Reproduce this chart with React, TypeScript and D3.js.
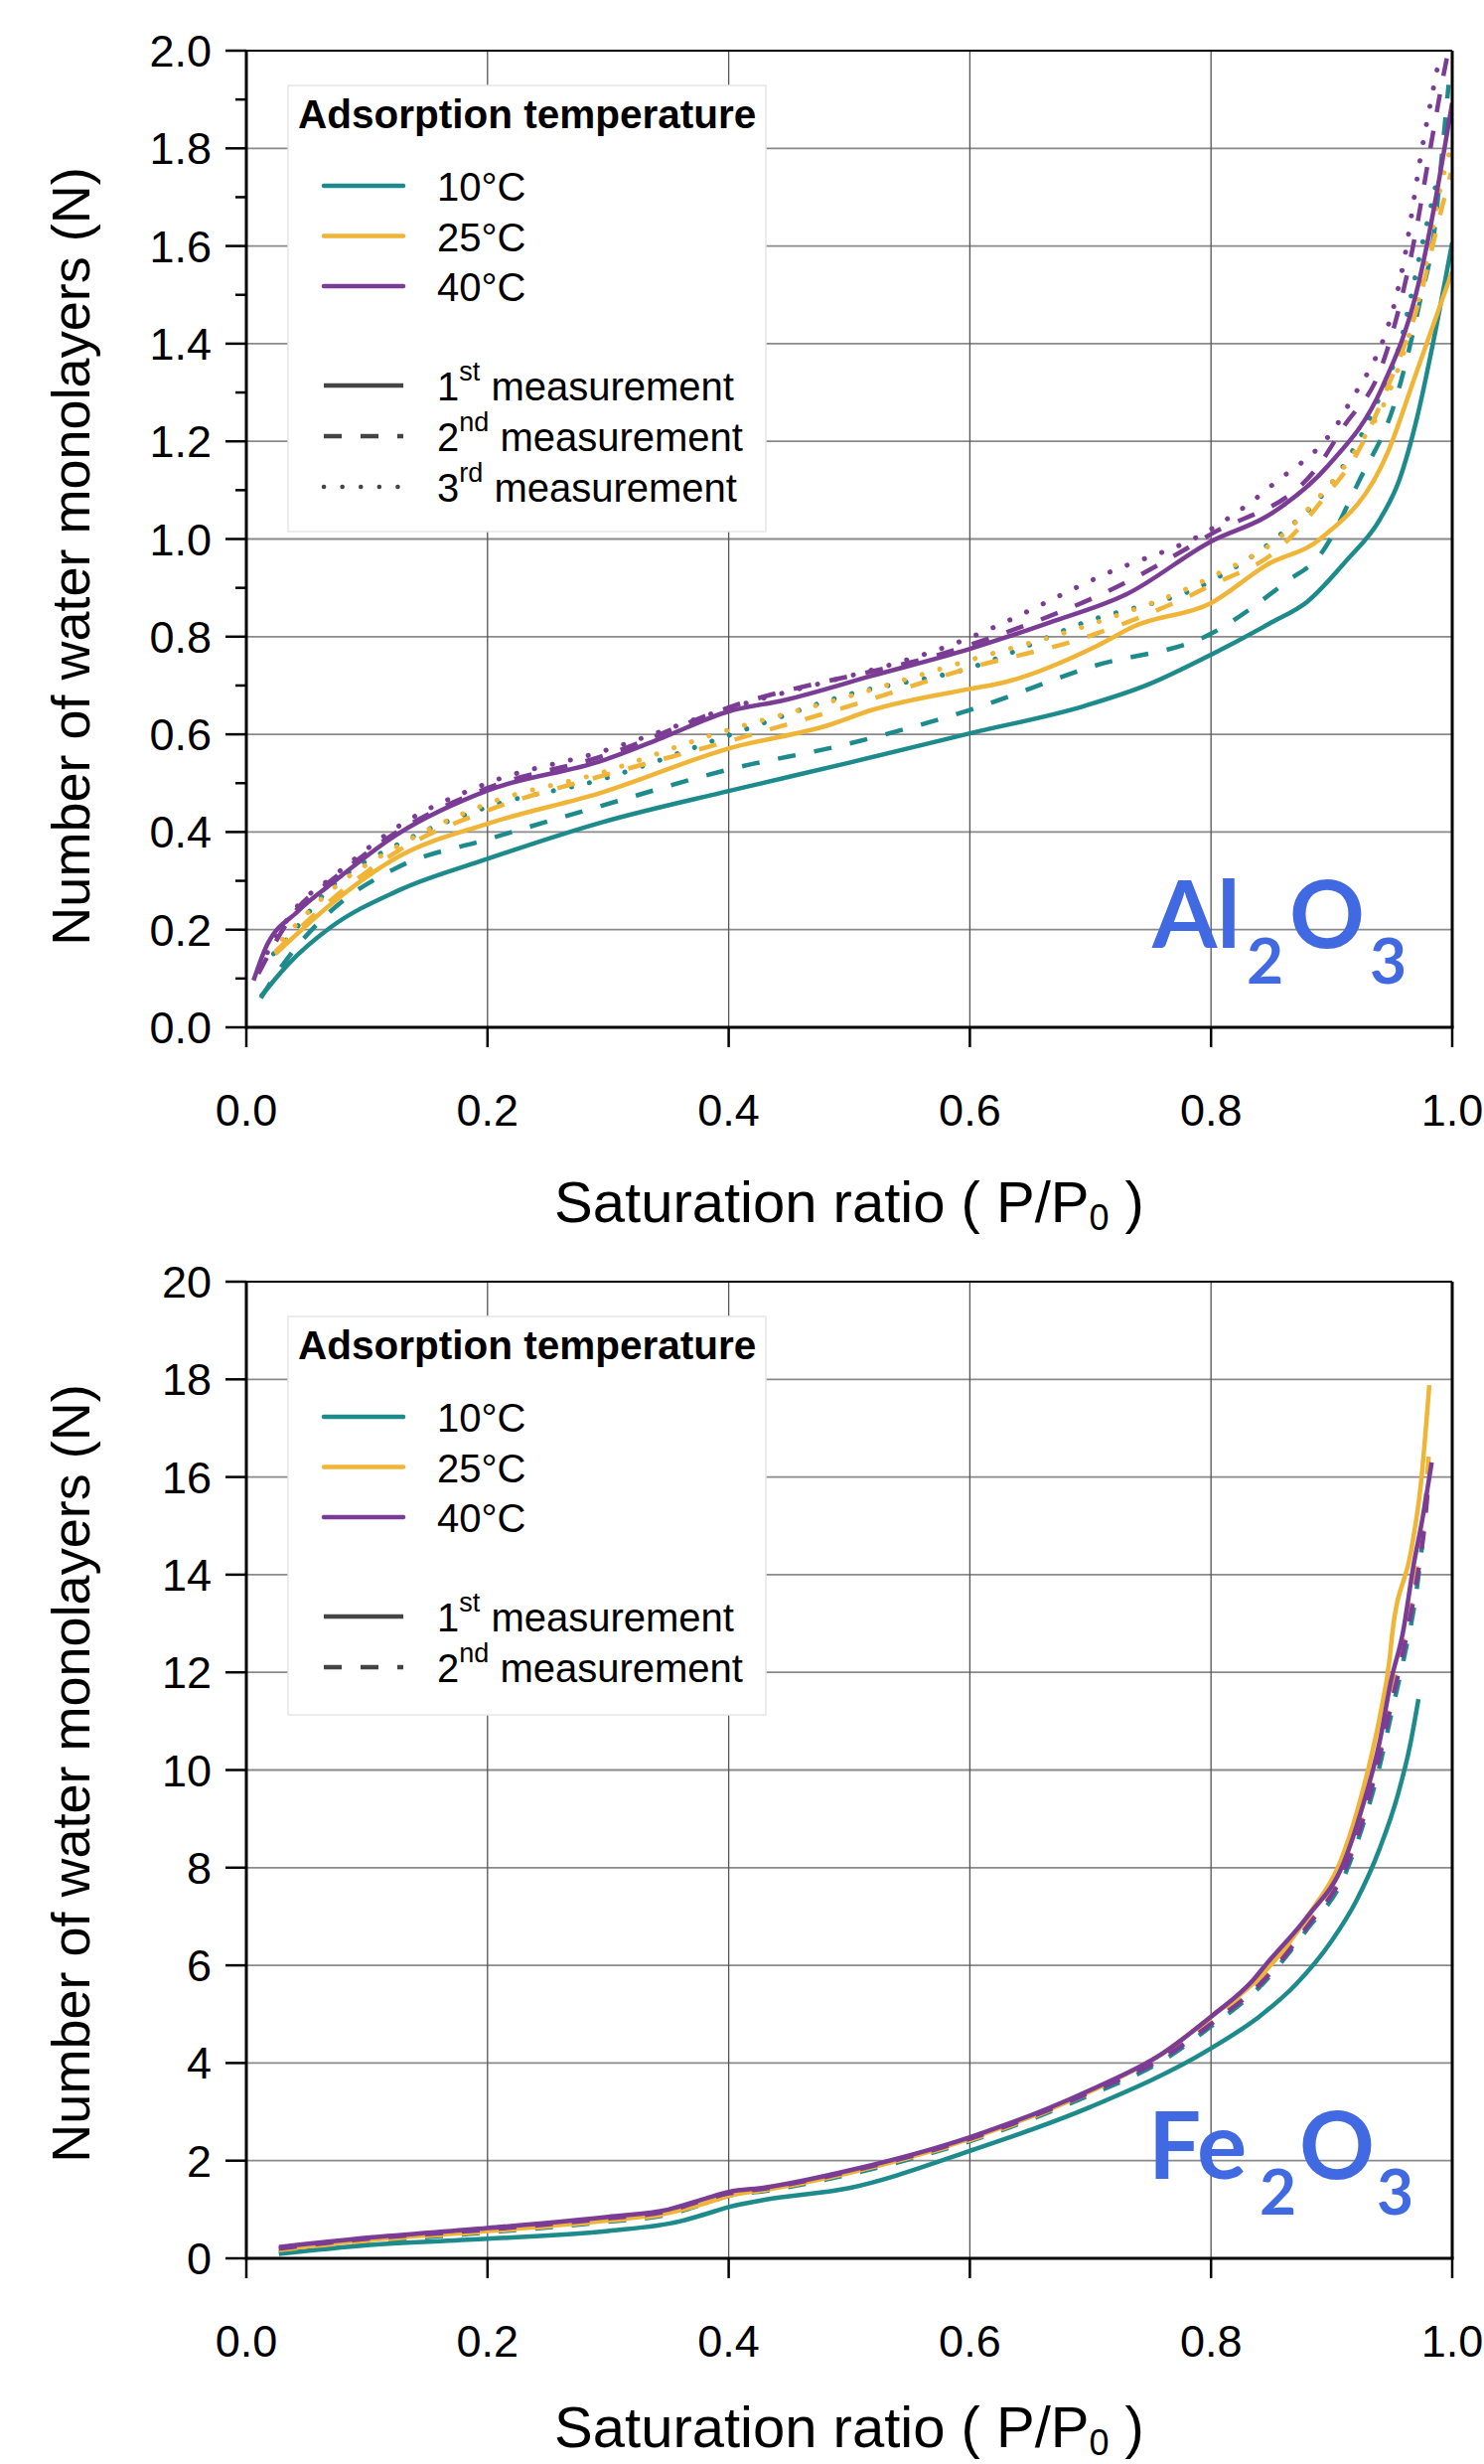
import React from "react";
import * as d3 from "d3";

// ---------------- data ----------------
const X_TICKS = [0, 0.2, 0.4, 0.6, 0.8, 1.0];
const AL_Y_TICKS = [0, 0.2, 0.4, 0.6, 0.8, 1.0, 1.2, 1.4, 1.6, 1.8, 2.0];
const AL_Y_MINOR = [0.1, 0.3, 0.5, 0.7, 0.9, 1.1, 1.3, 1.5, 1.7, 1.9];
const FE_Y_TICKS = [0, 2, 4, 6, 8, 10, 12, 14, 16, 18, 20];
const TEMPS = ["10°C", "25°C", "40°C"];
const MEAS_NUM = ["1", "2", "3"];
const MEAS_SUP = ["st", "nd", "rd"];

// Al2O3 — 10 °C
const AL_P_10_1 = [0.012, 0.035, 0.07, 0.125, 0.2, 0.295, 0.4, 0.5, 0.6, 0.695, 0.747, 0.8, 0.85, 0.88, 0.912, 0.94, 0.956, 0.971, 0.984, 1.0];
const AL_N_10_1 = [0.063, 0.13, 0.205, 0.279, 0.345, 0.42, 0.484, 0.542, 0.602, 0.658, 0.701, 0.763, 0.829, 0.872, 0.955, 1.04, 1.12, 1.25, 1.4, 1.607];
const AL_P_10_2 = [0.012, 0.029, 0.07, 0.125, 0.2, 0.295, 0.4, 0.5, 0.6, 0.703, 0.8, 0.864, 0.89, 0.923, 0.953, 0.973, 0.986, 0.992, 0.997];
const AL_N_10_2 = [0.06, 0.124, 0.238, 0.327, 0.385, 0.454, 0.528, 0.581, 0.65, 0.74, 0.806, 0.915, 0.966, 1.12, 1.284, 1.484, 1.647, 1.8, 1.93];
const AL_P_10_3 = [0.012, 0.03, 0.07, 0.125, 0.2, 0.295, 0.4, 0.5, 0.6, 0.695, 0.8, 0.852, 0.907, 0.937, 0.956, 0.975, 0.986];
const AL_N_10_3 = [0.124, 0.17, 0.287, 0.374, 0.451, 0.508, 0.598, 0.682, 0.736, 0.829, 0.914, 0.998, 1.139, 1.275, 1.393, 1.602, 1.72];
// Al2O3 — 25 °C
const AL_P_25_1 = [0.024, 0.07, 0.125, 0.2, 0.295, 0.4, 0.483, 0.519, 0.6, 0.626, 0.706, 0.736, 0.8, 0.847, 0.89, 0.947, 0.97, 1.0];
const AL_N_25_1 = [0.15, 0.252, 0.348, 0.417, 0.481, 0.571, 0.619, 0.65, 0.693, 0.705, 0.782, 0.821, 0.869, 0.948, 0.999, 1.18, 1.339, 1.548];
const AL_P_25_2 = [0.024, 0.07, 0.125, 0.2, 0.295, 0.4, 0.5, 0.6, 0.695, 0.8, 0.858, 0.894, 0.921, 0.948, 0.97, 0.992, 0.999];
const AL_N_25_2 = [0.155, 0.26, 0.36, 0.444, 0.515, 0.586, 0.658, 0.736, 0.798, 0.905, 0.984, 1.085, 1.175, 1.32, 1.466, 1.684, 1.75];
const AL_P_25_3 = [0.03, 0.07, 0.125, 0.2, 0.295, 0.388, 0.5, 0.6, 0.695, 0.8, 0.86, 0.88, 0.923, 0.948, 0.975, 0.992, 1.0];
const AL_N_25_3 = [0.18, 0.28, 0.37, 0.458, 0.522, 0.6, 0.678, 0.752, 0.821, 0.922, 1.01, 1.06, 1.193, 1.302, 1.52, 1.738, 1.81];
// Al2O3 — 40 °C
const AL_P_40_1 = [0.006, 0.015, 0.043, 0.07, 0.125, 0.2, 0.295, 0.345, 0.4, 0.446, 0.519, 0.6, 0.666, 0.73, 0.8, 0.85, 0.897, 0.942, 0.97, 1.0];
const AL_N_40_1 = [0.096, 0.157, 0.238, 0.293, 0.395, 0.485, 0.546, 0.593, 0.647, 0.67, 0.72, 0.775, 0.829, 0.887, 0.995, 1.052, 1.15, 1.311, 1.502, 1.893];
const AL_P_40_2 = [0.01, 0.043, 0.07, 0.125, 0.2, 0.295, 0.4, 0.6, 0.73, 0.8, 0.886, 0.91, 0.942, 0.967, 0.984, 0.992, 0.996];
const AL_N_40_2 = [0.11, 0.245, 0.3, 0.4, 0.49, 0.555, 0.655, 0.783, 0.912, 1.01, 1.14, 1.23, 1.357, 1.593, 1.83, 1.94, 1.99];
const AL_P_40_3 = [0.01, 0.043, 0.07, 0.125, 0.2, 0.295, 0.387, 0.6, 0.714, 0.8, 0.85, 0.912, 0.959, 0.975, 0.989];
const AL_N_40_3 = [0.12, 0.25, 0.305, 0.41, 0.5, 0.565, 0.643, 0.798, 0.93, 1.02, 1.109, 1.266, 1.557, 1.8, 1.98];

// Fe2O3 — 10 °C
const FE_P_10_1 = [0.027, 0.1, 0.2, 0.3, 0.36, 0.38, 0.4, 0.43, 0.5, 0.6, 0.7, 0.8, 0.84, 0.87, 0.9, 0.92, 0.94, 0.955, 0.965, 0.972];
const FE_N_10_1 = [0.09, 0.27, 0.4, 0.56, 0.76, 0.9, 1.05, 1.2, 1.44, 2.2, 3.1, 4.3, 4.95, 5.6, 6.5, 7.3, 8.4, 9.5, 10.5, 11.45];
const FE_P_10_2 = [0.027, 0.1, 0.2, 0.3, 0.35, 0.38, 0.4, 0.43, 0.5, 0.6, 0.7, 0.76, 0.8, 0.84, 0.88, 0.91, 0.925, 0.94, 0.95, 0.96, 0.97, 0.975];
const FE_N_10_2 = [0.12, 0.33, 0.53, 0.75, 0.9, 1.12, 1.28, 1.38, 1.72, 2.4, 3.35, 4.05, 4.75, 5.55, 6.75, 7.8, 8.8, 10.1, 11.2, 12.3, 13.6, 14.6];
// Fe2O3 — 25 °C
const FE_P_25_1 = [0.027, 0.1, 0.2, 0.3, 0.35, 0.38, 0.4, 0.43, 0.5, 0.6, 0.7, 0.76, 0.8, 0.84, 0.88, 0.91, 0.925, 0.94, 0.948, 0.95, 0.966, 0.974, 0.981];
const FE_N_25_1 = [0.18, 0.37, 0.56, 0.78, 0.93, 1.12, 1.28, 1.4, 1.75, 2.45, 3.42, 4.2, 4.95, 5.75, 7.0, 8.3, 9.5, 11.1, 12.26, 12.73, 14.5, 15.85, 17.88];
const FE_P_25_2 = [0.027, 0.1, 0.2, 0.3, 0.35, 0.38, 0.4, 0.43, 0.5, 0.6, 0.7, 0.76, 0.8, 0.84, 0.88, 0.91, 0.925, 0.94, 0.95, 0.96, 0.97, 0.977, 0.981];
const FE_N_25_2 = [0.17, 0.36, 0.55, 0.77, 0.92, 1.15, 1.3, 1.4, 1.76, 2.42, 3.4, 4.15, 4.85, 5.7, 6.9, 7.95, 9.0, 10.4, 11.6, 12.7, 14.0, 15.3, 16.6];
// Fe2O3 — 40 °C
const FE_P_40_1 = [0.027, 0.1, 0.2, 0.3, 0.35, 0.38, 0.4, 0.43, 0.5, 0.6, 0.7, 0.76, 0.8, 0.835, 0.845, 0.88, 0.91, 0.925, 0.94, 0.949, 0.959, 0.968, 0.975, 0.983];
const FE_N_40_1 = [0.23, 0.42, 0.62, 0.85, 1.0, 1.22, 1.36, 1.45, 1.8, 2.48, 3.45, 4.2, 4.95, 5.7, 6.0, 7.0, 8.1, 9.2, 10.6, 11.8, 12.8, 14.2, 15.1, 16.3];
const FE_P_40_2 = [0.027, 0.1, 0.2, 0.3, 0.35, 0.38, 0.4, 0.43, 0.5, 0.6, 0.7, 0.76, 0.8, 0.84, 0.88, 0.91, 0.925, 0.94, 0.95, 0.96, 0.97, 0.977, 0.98];
const FE_N_40_2 = [0.2, 0.4, 0.59, 0.82, 0.97, 1.2, 1.33, 1.43, 1.78, 2.45, 3.4, 4.1, 4.8, 5.6, 6.8, 7.9, 8.9, 10.3, 11.4, 12.5, 13.8, 15.0, 15.8];

// ---------------- styles ----------------
const COLORS = ["#1d8a8c", "#f0b437", "#7b3c96"];
const DASHES = [null, "18,19", "0.1,18.5"];
const FONT = '"Liberation Sans", Arial, Helvetica, sans-serif';
const LABEL_FONT = 'Lato, "Open Sans", sans-serif';
const LABEL_BLUE = "#4169e1";

type Series = { t: number; m: number; p: number[]; n: number[] };

const AL_SERIES: Series[] = [
  { t: 0, m: 0, p: AL_P_10_1, n: AL_N_10_1 },
  { t: 0, m: 1, p: AL_P_10_2, n: AL_N_10_2 },
  { t: 0, m: 2, p: AL_P_10_3, n: AL_N_10_3 },
  { t: 1, m: 0, p: AL_P_25_1, n: AL_N_25_1 },
  { t: 1, m: 1, p: AL_P_25_2, n: AL_N_25_2 },
  { t: 1, m: 2, p: AL_P_25_3, n: AL_N_25_3 },
  { t: 2, m: 0, p: AL_P_40_1, n: AL_N_40_1 },
  { t: 2, m: 1, p: AL_P_40_2, n: AL_N_40_2 },
  { t: 2, m: 2, p: AL_P_40_3, n: AL_N_40_3 },
];
const FE_SERIES: Series[] = [
  { t: 0, m: 0, p: FE_P_10_1, n: FE_N_10_1 },
  { t: 0, m: 1, p: FE_P_10_2, n: FE_N_10_2 },
  { t: 1, m: 0, p: FE_P_25_1, n: FE_N_25_1 },
  { t: 1, m: 1, p: FE_P_25_2, n: FE_N_25_2 },
  { t: 2, m: 0, p: FE_P_40_1, n: FE_N_40_1 },
  { t: 2, m: 1, p: FE_P_40_2, n: FE_N_40_2 },
];

const LEFT = 248;
const RIGHT = 1462;
const H = 983;

function Panel(props: {
  top: number;
  yMax: number;
  yTicks: number[];
  yMinor: number[];
  fmt: (v: number) => string;
  series: Series[];
  nMeas: number;
  formula: [string, string, string, string];
  formulaX: [number, number, number, number];
  clipId: string;
  titleCenter: number;
  xTitleOffset: number;
}) {
  const { top, yMax, yTicks, yMinor, fmt, series, nMeas, formula, formulaX, clipId, titleCenter, xTitleOffset } = props;
  const bottom = top + H;
  const x = d3.scaleLinear().domain([0, 1]).range([LEFT, RIGHT]);
  const y = d3.scaleLinear().domain([0, yMax]).range([bottom, top]);
  const line = d3
    .line<[number, number]>()
    .x((d) => x(d[0]))
    .y((d) => y(d[1]))
    .curve(d3.curveMonotoneX);

  const legTop = top + 35;
  const legH = nMeas === 3 ? 449 : 401;
  const tempY = (i: number) => top + 136 + i * 50.5;
  const measY = (j: number) => top + 337 + j * 51;
  const formulaBase = bottom - 80;

  return (
    <g>
      <defs>
        <clipPath id={clipId}>
          <rect x={LEFT} y={top} width={RIGHT - LEFT} height={H} />
        </clipPath>
      </defs>
      {/* grid */}
      {yTicks
        .filter((v) => v > 0 && v < yMax)
        .map((v) => (
          <line key={"gy" + v} x1={LEFT} x2={RIGHT} y1={y(v)} y2={y(v)} stroke="#8a8a8a" strokeWidth={1.8} />
        ))}
      {X_TICKS.filter((v) => v > 0 && v < 1).map((v) => (
        <line key={"gx" + v} x1={x(v)} x2={x(v)} y1={top} y2={bottom} stroke="#555" strokeWidth={1.3} />
      ))}

      {/* legend */}
      <rect x={290} y={legTop} width={481} height={legH} fill="#fff" stroke="#e6e6e6" strokeWidth={1.5} />
      <text x={300} y={top + 78} fontFamily={FONT} fontWeight="bold" fontSize={40.5} fill="#000">
        Adsorption temperature
      </text>
      {TEMPS.map((t, i) => (
        <g key={t}>
          <line x1={326} x2={406} y1={tempY(i)} y2={tempY(i)} stroke={COLORS[i]} strokeWidth={4.5} strokeLinecap="round" />
          <text x={440} y={tempY(i) + 15} fontFamily={FONT} fontSize={40} fill="#000">
            {t}
          </text>
        </g>
      ))}
      {MEAS_NUM.slice(0, nMeas).map((num, j) => (
        <g key={num}>
          <line
            x1={326}
            x2={406}
            y1={measY(j)}
            y2={measY(j)}
            stroke="#444"
            strokeWidth={4.5}
            strokeDasharray={DASHES[j] ?? undefined}
            strokeLinecap={j === 2 ? "round" : "butt"}
          />
          <text x={440} y={measY(j) + 15} fontFamily={FONT} fontSize={40} fill="#000">
            {num}
            <tspan fontSize={27} dy={-20}>
              {MEAS_SUP[j]}
            </tspan>
            <tspan dy={20}> measurement</tspan>
          </text>
        </g>
      ))}

      {/* curves */}
      <g clipPath={`url(#${clipId})`}>
        {series.map((s, k) => {
          const pts: [number, number][] = s.p.map((p, i) => [p, s.n[i]]);
          return (
            <path
              key={k}
              d={line(pts) || ""}
              fill="none"
              stroke={COLORS[s.t]}
              strokeWidth={s.m === 2 ? 5 : 4.5}
              strokeDasharray={DASHES[s.m] ?? undefined}
              strokeLinecap={s.m === 2 ? "round" : "butt"}
              strokeLinejoin="round"
            />
          );
        })}
      </g>

      {/* frame */}
      <line x1={LEFT} x2={RIGHT} y1={top} y2={top} stroke="#000" strokeWidth={2.2} />
      <line x1={RIGHT} x2={RIGHT} y1={top} y2={bottom} stroke="#000" strokeWidth={3} />
      <line x1={LEFT} x2={LEFT} y1={top - 1} y2={bottom + 1.5} stroke="#000" strokeWidth={3} />
      <line x1={LEFT} x2={RIGHT + 1.5} y1={bottom} y2={bottom} stroke="#000" strokeWidth={3} />

      {/* y ticks */}
      {yTicks.map((v) => (
        <g key={"yt" + v}>
          <line x1={LEFT - 21} x2={LEFT} y1={y(v)} y2={y(v)} stroke="#000" strokeWidth={2.5} />
          <text x={213} y={y(v) + 16} textAnchor="end" fontFamily={FONT} fontSize={45} fill="#000">
            {fmt(v)}
          </text>
        </g>
      ))}
      {yMinor.map((v) => (
        <line key={"ym" + v} x1={LEFT - 11} x2={LEFT} y1={y(v)} y2={y(v)} stroke="#000" strokeWidth={2.5} />
      ))}
      {/* x ticks */}
      {X_TICKS.map((v) => (
        <g key={"xt" + v}>
          <line x1={x(v)} x2={x(v)} y1={bottom} y2={bottom + 20} stroke="#000" strokeWidth={2.5} />
          <text x={x(v)} y={bottom + 99} textAnchor="middle" fontFamily={FONT} fontSize={45} fill="#000">
            {d3.format(".1f")(v)}
          </text>
        </g>
      ))}

      {/* axis titles */}
      <text x={(LEFT + RIGHT) / 2} y={bottom + xTitleOffset} textAnchor="middle" fontFamily={FONT} fontSize={58} fill="#000">
        Saturation ratio ( P/P
        <tspan fontSize={36} dy={8}>
          0
        </tspan>
        <tspan dy={-8}> )</tspan>
      </text>
      <text
        transform={`translate(90, ${titleCenter}) rotate(-90)`}
        textAnchor="middle"
        fontFamily={FONT}
        fontSize={54}
        fill="#000"
      >
        Number of water monolayers (N)
      </text>

      {/* formula label */}
      <g fontFamily={LABEL_FONT} fontWeight="bold" fill={LABEL_BLUE}>
        <text x={formulaX[0]} y={formulaBase} fontSize={94}>
          {formula[0]}
        </text>
        <text x={formulaX[1]} y={formulaBase + 36} fontSize={64}>
          {formula[1]}
        </text>
        <text x={formulaX[2]} y={formulaBase} fontSize={94}>
          {formula[2]}
        </text>
        <text x={formulaX[3]} y={formulaBase + 36} fontSize={64}>
          {formula[3]}
        </text>
      </g>
    </g>
  );
}

export default function App() {
  return (
    <svg
      width={1494}
      height={2480}
      viewBox="0 0 1494 2480"
      style={{ position: "absolute", left: 0, top: 0, display: "block", background: "#fff" }}
    >
      <rect x={0} y={0} width={1494} height={2480} fill="#fff" />
      <Panel
        top={51}
        yMax={2}
        yTicks={AL_Y_TICKS}
        yMinor={AL_Y_MINOR}
        fmt={d3.format(".1f")}
        series={AL_SERIES}
        nMeas={3}
        formula={["Al", "2", "O", "3"]}
        formulaX={[1160, 1255, 1298, 1379]}
        clipId="clipAl"
        titleCenter={560}
        xTitleOffset={196}
      />
      <Panel
        top={1290}
        yMax={20}
        yTicks={FE_Y_TICKS}
        yMinor={[]}
        fmt={d3.format("d")}
        series={FE_SERIES}
        nMeas={2}
        formula={["Fe", "2", "O", "3"]}
        formulaX={[1156, 1268, 1308, 1386]}
        clipId="clipFe"
        titleCenter={1785}
        xTitleOffset={190}
      />
    </svg>
  );
}
